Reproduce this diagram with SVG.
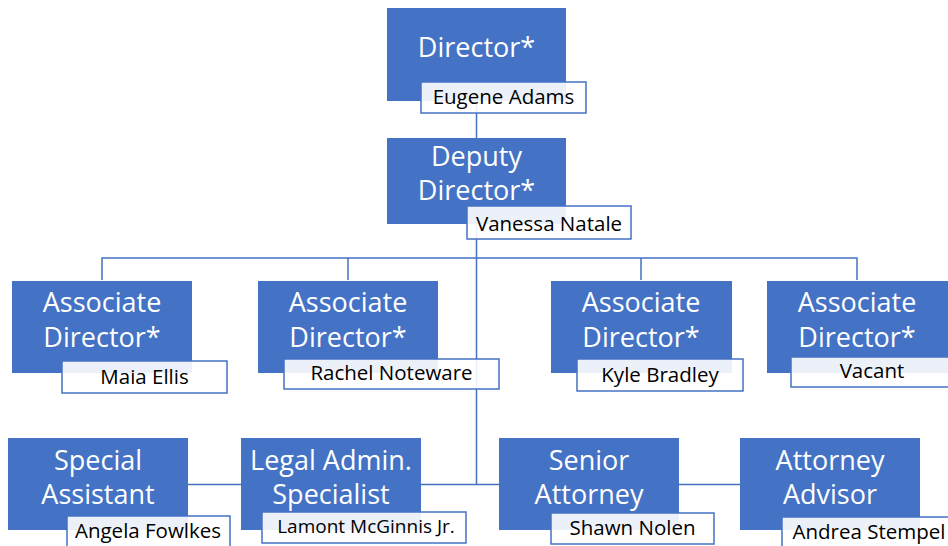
<svg xmlns="http://www.w3.org/2000/svg" width="948" height="546" viewBox="0 0 948 546">
<style>
.box{fill:#4472C4}
.lab{fill:#ffffff;fill-opacity:0.9;stroke:#4472C4;stroke-width:1.5}
.t{font-family:"Open Sans","Noto Sans","Liberation Sans",sans-serif;font-size:27px;fill:#ffffff;text-anchor:middle}
.n{font-family:"Open Sans","Noto Sans","Liberation Sans",sans-serif;font-size:20.5px;fill:#000000;text-anchor:middle}
.c{fill:none;stroke:#4472C4;stroke-width:1.5}
</style>
<rect width="948" height="546" fill="#ffffff"/>
<g id="connectors">
<path class="c" d="M476.5 101 V138"/>
<path class="c" d="M476.5 224 V485"/>
<path class="c" d="M102 280 V258 H857 V280"/>
<path class="c" d="M348 258 V280"/>
<path class="c" d="M641 258 V280"/>
<path class="c" d="M421 484.5 H499"/>
<path class="c" d="M188 484.5 H241"/>
<path class="c" d="M679 484.5 H740"/>
</g>
<g id="director">
<rect class="box" x="387" y="8" width="179" height="93"/>
<text class="t" x="476.5" y="57">Director*</text>
<rect class="lab" x="421" y="82" width="165" height="31"/>
<text class="n" x="503.5" y="104">Eugene Adams</text>
</g>
<g id="deputy">
<rect class="box" x="387" y="138" width="179" height="86"/>
<text class="t" x="476.5" y="166"><tspan x="476.5">Deputy</tspan><tspan x="476.5" dy="34">Director*</tspan></text>
<rect class="lab" x="467" y="206" width="164" height="33"/>
<text class="n" x="549" y="231">Vanessa Natale</text>
</g>
<g id="ad1">
<rect class="box" x="12" y="281" width="180" height="92"/>
<text class="t" x="102" y="312"><tspan x="102">Associate</tspan><tspan x="102" dy="35">Director*</tspan></text>
<rect class="lab" x="62" y="361" width="165" height="32"/>
<text class="n" x="144.5" y="384">Maia Ellis</text>
</g>
<g id="ad2">
<rect class="box" x="258" y="281" width="180" height="92"/>
<text class="t" x="348" y="312"><tspan x="348">Associate</tspan><tspan x="348" dy="35">Director*</tspan></text>
<rect class="lab" x="284" y="359" width="215" height="30"/>
<text class="n" x="391.5" y="380">Rachel Noteware</text>
</g>
<g id="ad3">
<rect class="box" x="551" y="281" width="181" height="92"/>
<text class="t" x="641" y="312"><tspan x="641">Associate</tspan><tspan x="641" dy="35">Director*</tspan></text>
<rect class="lab" x="577" y="359" width="166" height="32"/>
<text class="n" x="660" y="382">Kyle Bradley</text>
</g>
<g id="ad4">
<rect class="box" x="767" y="281" width="181" height="92"/>
<text class="t" x="857" y="312"><tspan x="857">Associate</tspan><tspan x="857" dy="35">Director*</tspan></text>
<rect class="lab" x="791" y="357" width="165" height="30"/>
<text class="n" x="872" y="378">Vacant</text>
</g>
<g id="special-assistant">
<rect class="box" x="8" y="438" width="180" height="92"/>
<text class="t" x="98" y="470"><tspan x="98">Special</tspan><tspan x="98" dy="34">Assistant</tspan></text>
<rect class="lab" x="67" y="516" width="163" height="34"/>
<text class="n" x="148" y="538">Angela Fowlkes</text>
</g>
<g id="legal-admin">
<rect class="box" x="241" y="438" width="180" height="92"/>
<text class="t" x="331" y="470"><tspan x="331">Legal Admin.</tspan><tspan x="331" dy="34">Specialist</tspan></text>
<rect class="lab" x="262" y="512" width="204" height="31"/>
<text class="n" x="366" y="533" style="font-size:19px">Lamont McGinnis Jr.</text>
</g>
<g id="senior-attorney">
<rect class="box" x="499" y="438" width="180" height="92"/>
<text class="t" x="589" y="470"><tspan x="589">Senior</tspan><tspan x="589" dy="34">Attorney</tspan></text>
<rect class="lab" x="551" y="513" width="163" height="31"/>
<text class="n" x="632.5" y="535">Shawn Nolen</text>
</g>
<g id="attorney-advisor">
<rect class="box" x="740" y="438" width="180" height="92"/>
<text class="t" x="830" y="470"><tspan x="830">Attorney</tspan><tspan x="830" dy="34">Advisor</tspan></text>
<rect class="lab" x="782" y="517" width="174" height="34"/>
<text class="n" x="869" y="539">Andrea Stempel</text>
</g>
</svg>
